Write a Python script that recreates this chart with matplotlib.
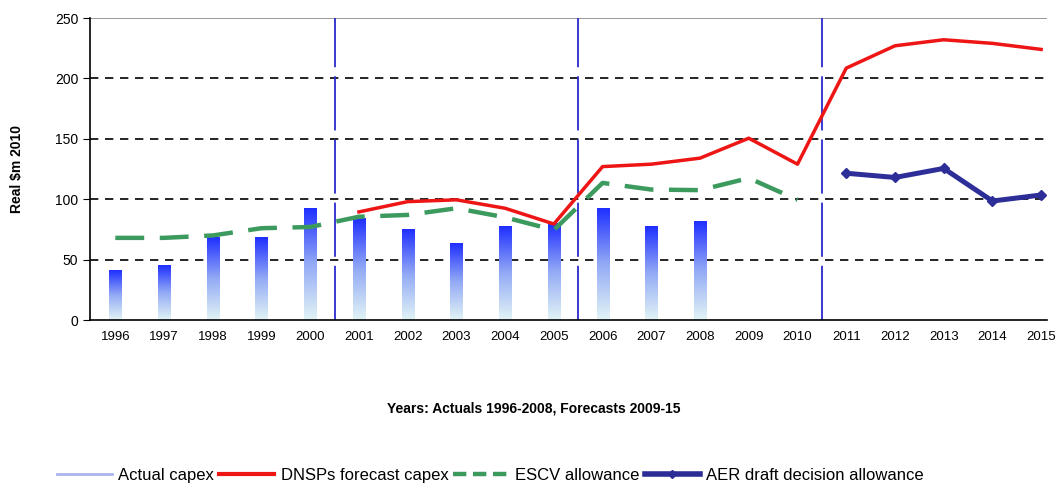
import matplotlib
matplotlib.use("Agg")
import matplotlib.pyplot as plt
import numpy as np
from matplotlib.lines import Line2D
from matplotlib.colors import LinearSegmentedColormap

plt.rcParams['font.family'] = ['Liberation Sans', 'DejaVu Sans']

years = [str(y) for y in range(1996, 2016)]
actual_years = years[:13]
actual_capex = [41, 45.5, 68.5, 68, 92, 84, 74.5, 63.5, 77, 80, 92, 77, 81.5]
dnsp_years = years[5:]
dnsp_forecast = [89.5, 98, 99.5, 92.5, 79.5, 127, 129, 134, 150.5, 129, 208.5, 227, 232, 229, 224]
escv_years = years[:15]
escv_allowance = [68, 68, 70, 76, 77, 85.5, 87, 92.5, 85, 74.5, 113.5, 108, 107.5, 117.5, 99.5]
aer_years = years[15:]
aer_allowance = [121.5, 118, 125.5, 98.5, 103.5]
yticks = [0, 50, 100, 150, 200, 250]

fig = plt.figure(figsize=(10.61, 4.84), dpi=100)
ax = fig.add_axes([0.0848, 0.3388, 0.902, 0.624])

idx = {y: i for i, y in enumerate(years)}
xa = [idx[y] for y in actual_years]

# gradient bars
bars = ax.bar(xa, actual_capex, width=0.25, color='none', edgecolor='none', zorder=2)
grad = np.linspace(0, 1, 256).reshape(-1, 1)
cmap = LinearSegmentedColormap.from_list('g', ['#e2f4f6', '#93aaf5', '#1f2fff'])
for b in bars:
    x0, y0 = b.get_x(), b.get_y()
    w, h = b.get_width(), b.get_height()
    ax.imshow(grad, extent=[x0, x0 + w, y0, y0 + h], origin='lower', aspect='auto',
              cmap=cmap, zorder=2)

# grid lines
for v in yticks[1:-1]:
    ax.axhline(v, color='black', lw=1.2, ls=(0, (5, 4)), zorder=1)
ax.axhline(250, color='#888888', lw=1.2, zorder=1)

for xv in [4.5, 9.5, 14.5]:
    ax.axvline(xv, color='#2a2acc', lw=1.3, ls=(0, (30, 5)), zorder=1)

ax.plot([idx[y] for y in escv_years], escv_allowance, color='#3c9a5f', lw=3.2,
        dashes=(6.5, 3.5), zorder=3)
ax.plot([idx[y] for y in dnsp_years], dnsp_forecast, color='#ee1515', lw=2.5, zorder=4)
ax.plot([idx[y] for y in aer_years], aer_allowance, color='#2e2e98', lw=3.6, marker='D',
        markersize=5, zorder=4)

ax.set_xlim(-0.52, 19.12)
ax.set_ylim(0, 250)
ax.set_yticks(yticks)
ax.set_xticks(range(len(years)))
ax.set_xticklabels(years, fontsize=9.5)
ax.tick_params(axis='y', labelsize=10, length=5, direction='out')
ax.tick_params(axis='x', length=0, pad=8)
for s in ['top', 'right']:
    ax.spines[s].set_visible(False)
ax.spines['left'].set_color('black')
ax.spines['bottom'].set_color('black')
ax.spines['left'].set_linewidth(1.2)
ax.spines['bottom'].set_linewidth(1.2)

ax.set_ylabel('Real $m 2010', fontsize=10, fontweight='bold', labelpad=22)
fig.text(0.503, 0.157, 'Years: Actuals 1996-2008, Forecasts 2009-15', ha='center',
         va='center', fontsize=10, fontweight='bold')

handles = [
    Line2D([], [], color='#aab4ee', lw=2),
    Line2D([], [], color='#ee1515', lw=3),
    Line2D([], [], color='#3c9a5f', lw=3.2, dashes=(3, 1.5)),
    Line2D([], [], color='#2c2c96', lw=4, marker='D', markersize=4),
]
labels = ['Actual capex', 'DNSPs forecast capex', 'ESCV allowance', 'AER draft decision allowance']
fig.legend(handles, labels, loc='center', bbox_to_anchor=(0.462, 0.017), ncol=4, frameon=False,
           fontsize=12, handlelength=3.3, columnspacing=0.3, handletextpad=0.4)

fig.savefig('out.png', dpi=100)
